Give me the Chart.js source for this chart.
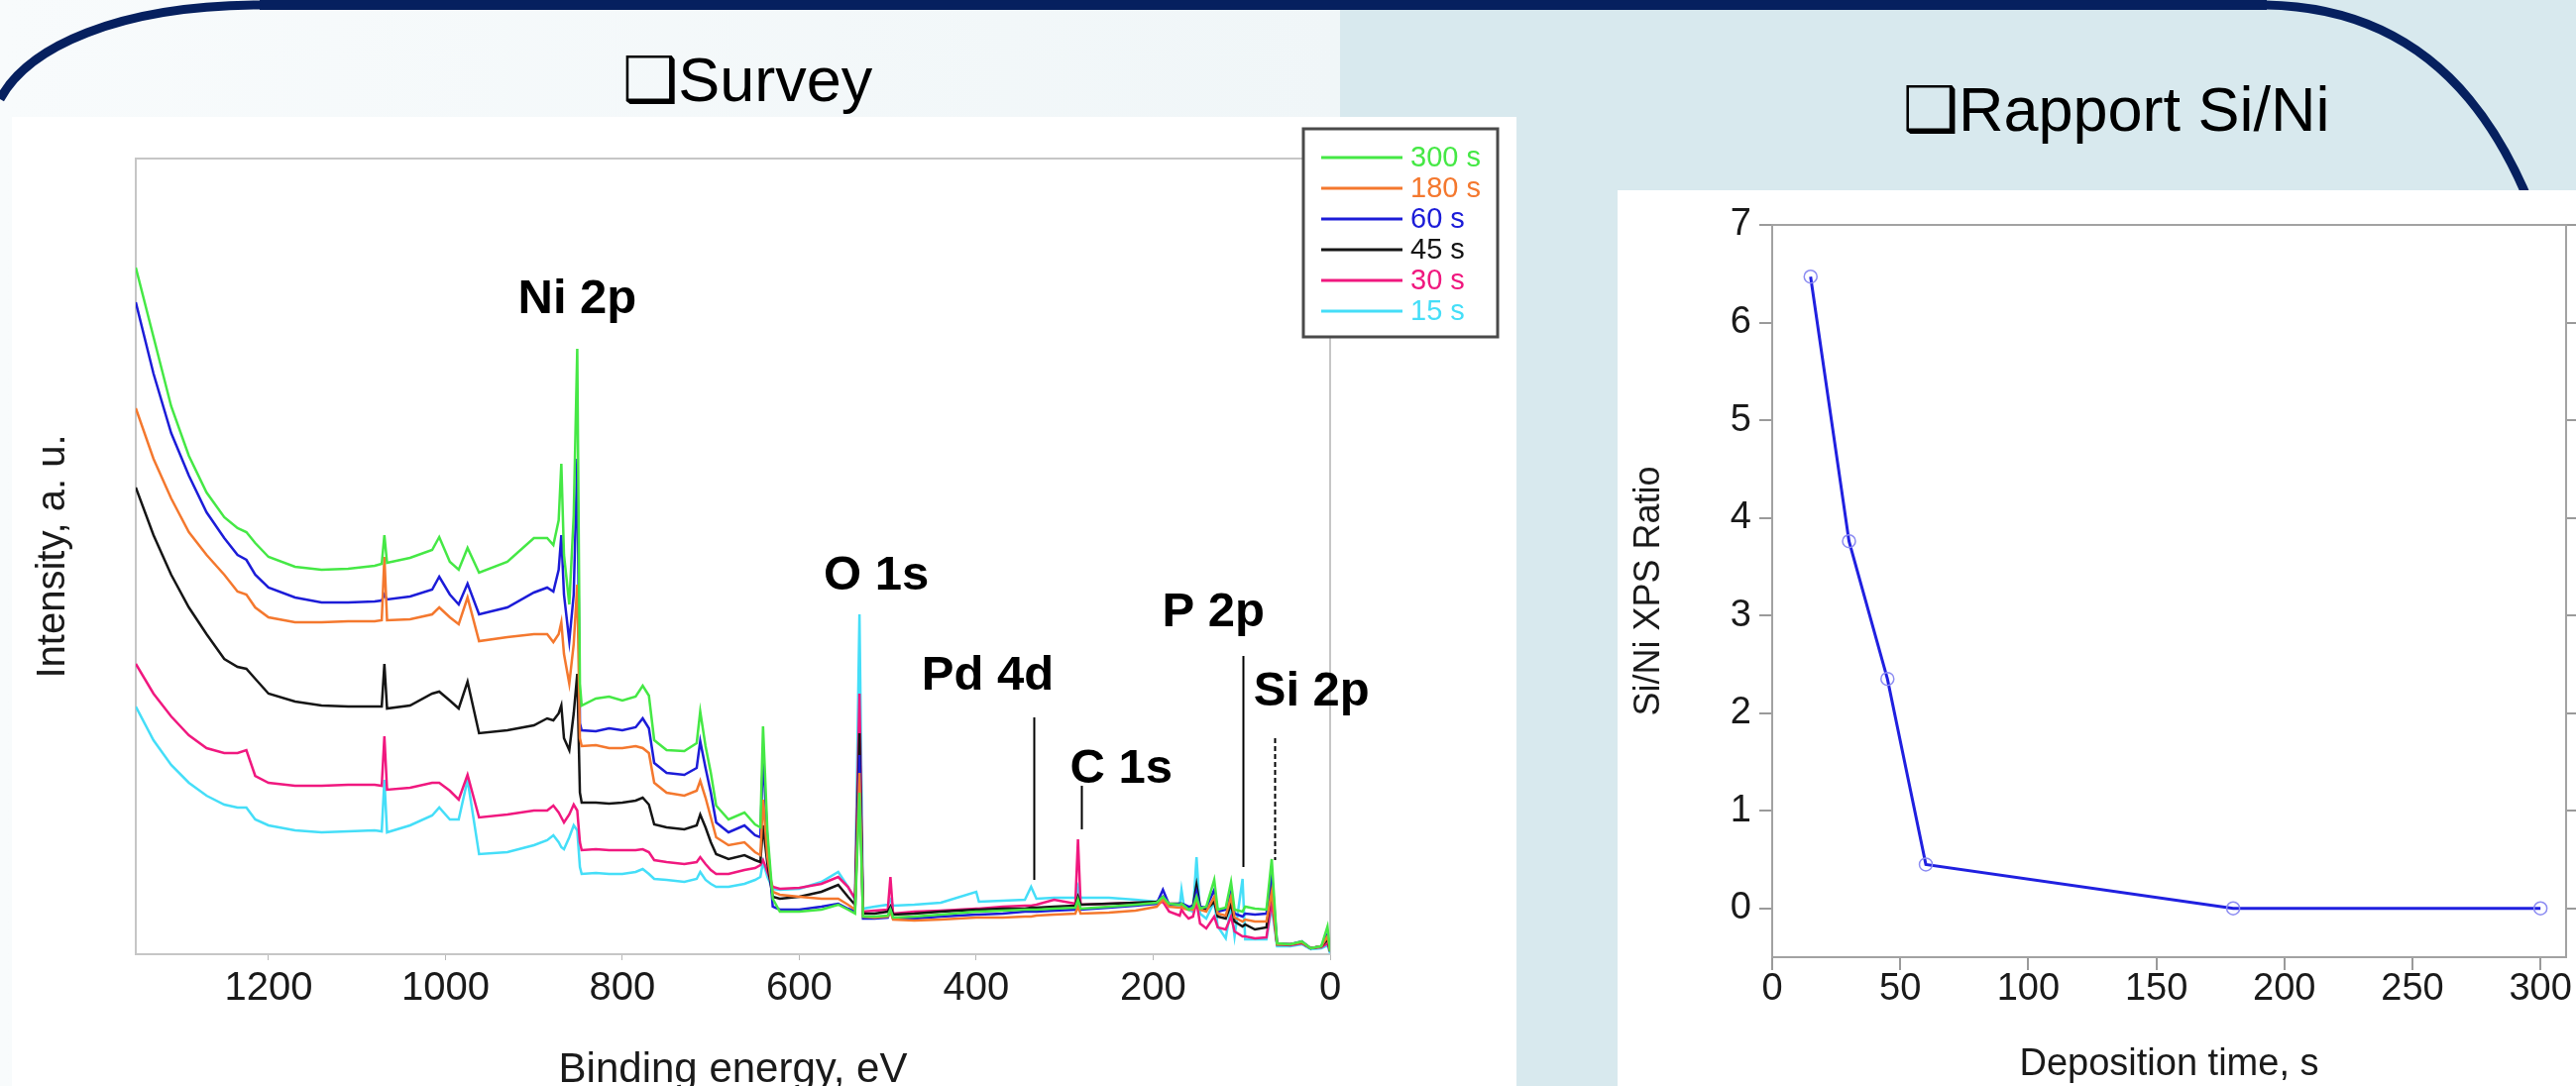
<!DOCTYPE html>
<html>
<head>
<meta charset="utf-8">
<title>XPS survey and Si/Ni ratio</title>
<script src="https://cdn.jsdelivr.net/npm/chart.js@4.4.1/dist/chart.umd.min.js"></script>
<style>
  html, body { margin: 0; padding: 0; width: 2599px; height: 1096px; overflow: hidden; }
  body { position: relative; background: #d8e9ee; font-family: 'Liberation Sans', Arial, sans-serif; }
  #bgLeft { position: absolute; left: 0; top: 0; width: 1352px; height: 1096px;
            background: linear-gradient(90deg, #f8fbfc 0%, #f0f6f8 100%); }
  #deco { position: absolute; left: 0; top: 0; }
  .title { position: absolute; font-size: 63px; color: #000; white-space: nowrap;
           transform: translate(-50%, -50%); font-family: 'Liberation Sans', 'DejaVu Sans', sans-serif; }
  .panel { position: absolute; background: #fff; }
  #surveyBox { left: 12px; top: 118px; width: 1518px; height: 1000px; }
  #ratioBox { left: 1632px; top: 192px; width: 967px; height: 904px; }
</style>
</head>
<body>
<div id="bgLeft"></div>
<svg id="deco" width="2599" height="1096">
  <rect x="262" y="0" width="2025" height="10" fill="#06205f"/>
  <path d="M0,100 C28,48 118,5 265,5 L2280,5 C2450,5 2565,120 2605,420" fill="none" stroke="#06205f" stroke-width="9"/>
</svg>
<div class="title" style="left:754px; top:80px;">❑Survey</div>
<div class="title" style="left:2135px; top:110px;">❑Rapport Si/Ni</div>
<div class="panel" id="surveyBox"><canvas id="survey"></canvas></div>
<div class="panel" id="ratioBox"><canvas id="ratio"></canvas></div>

<script>
const FONT = "'Liberation Sans', Arial, sans-serif";

// survey spectra: binding energy (eV) and intensity (a.u.) for each deposition time
const energy = [1350,1330,1310,1290,1270,1250,1235,1225,1215,1200,
  1170,1140,1110,1080,1072,1069,1066,1040,1015,1007,
  995,985,975,962,930,900,885,878,872,869,
  866,860,855,851,848,846,830,815,800,785,
  777,770,764,750,730,716,712,706,700,694,
  680,662,650,644,641,636,630,622,600,575,
  556,545,537,532,528,515,500,497,494,470,
  440,400,397,370,345,338,332,312,288,285,
  282,250,220,196,189,182,170,168,165,160,
  155,151,147,140,131,127,118,112,108,99,
  96,85,72,66,60,45,32,22,10,3,0];

const s300 = [693,623,553,503,466,441,430,426,415,401,
  391,388,389,392,394,423,395,400,408,421,
  396,388,410,385,396,420,420,413,438,495,
  403,353,443,611,273,251,258,260,256,260,
  271,261,216,206,205,213,245,210,183,150,
  136,143,131,128,230,123,56,43,43,45,
  50,45,41,163,38,38,39,45,37,38,
  40,43,43,44,45,45,45,46,47,55,
  46,48,50,52,58,51,50,51,49,45,
  47,58,46,48,75,45,47,73,45,43,
  48,46,45,96,11,10,13,6,8,28,3];

const s180 = [551,500,460,426,403,383,366,363,350,340,
  335,335,336,336,337,401,337,338,343,350,
  340,333,360,316,320,323,323,315,323,335,
  303,273,313,373,218,210,211,208,208,210,
  208,203,173,163,160,165,175,158,138,118,
  110,113,103,100,156,98,63,60,58,56,
  56,50,45,183,38,37,38,43,35,34,
  35,37,37,37,38,38,39,40,41,48,
  41,42,44,48,55,48,47,48,46,45,
  45,55,45,43,58,41,39,58,37,33,
  35,33,33,63,10,10,12,6,8,18,3];

const s60 = [658,586,526,483,446,420,403,398,383,370,
  360,355,355,356,357,363,358,361,368,381,
  363,353,374,343,350,365,370,366,388,423,
  363,316,363,500,233,226,225,228,226,229,
  238,228,193,183,181,188,215,188,163,133,
  123,130,120,118,201,115,48,45,45,48,
  51,46,43,201,36,36,37,45,36,36,
  38,40,40,41,43,43,43,44,45,53,
  45,47,49,51,65,50,51,51,50,48,
  48,63,48,47,65,43,45,63,41,38,
  41,40,41,81,11,10,13,6,8,20,3];

const s45 = [471,423,383,350,323,298,290,288,278,263,
  255,251,250,250,250,293,248,251,263,265,
  256,248,275,223,226,231,238,236,243,251,
  218,206,243,283,163,153,153,152,153,155,
  158,151,131,128,126,130,141,128,113,101,
  96,100,95,93,130,91,58,56,58,63,
  70,58,50,223,41,41,43,48,40,41,
  43,45,45,46,46,47,47,48,49,58,
  50,51,52,53,58,51,51,51,50,47,
  49,70,48,45,53,38,36,51,33,28,
  30,25,27,68,10,10,12,6,8,15,3];

const s30 = [293,263,240,221,208,203,203,206,180,173,
  170,170,171,171,170,220,166,168,173,173,
  165,156,181,138,141,145,145,150,143,138,
  133,141,151,145,113,105,106,105,105,105,
  106,103,95,93,91,93,98,91,85,81,
  81,85,87,90,95,83,68,66,67,71,
  78,68,56,263,43,44,45,78,41,43,
  44,46,46,48,49,49,50,55,51,116,
  50,51,52,51,53,43,39,45,41,36,
  38,53,31,26,38,27,25,38,23,18,
  18,16,17,53,10,9,11,6,7,11,3];

const s15 = [250,216,191,173,160,151,148,148,136,130,
  125,123,124,125,124,176,123,130,140,148,
  136,136,176,101,103,110,115,120,113,108,
  106,118,130,125,88,81,82,81,81,83,
  86,81,76,75,73,76,83,75,71,68,
  68,71,75,78,93,78,66,65,66,73,
  83,68,55,343,46,48,50,55,49,50,
  52,63,53,54,55,68,56,57,57,68,
  57,57,55,53,57,48,49,65,47,45,
  43,98,41,36,53,28,16,48,18,76,
  15,15,15,48,8,8,10,5,6,9,1];

const seriesLabels = ['300 s', '180 s', '60 s', '45 s', '30 s', '15 s'];
const seriesColors = ['#45e845', '#f4782e', '#1c1cd8', '#151515', '#f0187f', '#45def8'];
const surveyTicks = [0, 200, 400, 600, 800, 1000, 1200];

// peak annotations: label, energy of label centre, baseline level
const peakLabels = ['Ni 2p', 'O 1s', 'Pd 4d', 'C 1s', 'P 2p', 'Si 2p'];
const labelEnergy = [851, 513, 387, 236, 132, 21];
const labelLevel = [647, 368, 267, 173, 331, 251];
// marker lines: energy, top level, bottom level, dashed
const markerEnergy = [335, 281, 98.5, 63];
const markerTop = [239, 170, 301, 218];
const markerBottom = [75, 126, 88, 95];
const markerDashed = [false, false, false, true];

// Si/Ni ratio
const depositionTime = [15, 30, 45, 60, 180, 300];
const siNiRatio = [6.47, 3.76, 2.35, 0.45, 0, 0];
const timeTicks = [0, 50, 100, 150, 200, 250, 300];
const ratioTicks = [0, 1, 2, 3, 4, 5, 6, 7];

const framePlugin = {
  id: 'frame',
  beforeDatasetsDraw(chart, args, opts) {
    const a = chart.chartArea, ctx = chart.ctx;
    ctx.save();
    ctx.strokeStyle = opts.color;
    ctx.lineWidth = opts.width;
    ctx.strokeRect(a.left, a.top, a.right - a.left, a.bottom - a.top);
    ctx.restore();
  }
};

const peakPlugin = {
  id: 'peaks',
  afterDatasetsDraw(chart) {
    const x = chart.scales.x, y = chart.scales.y, ctx = chart.ctx;
    ctx.save();
    ctx.fillStyle = '#000';
    ctx.font = 'bold 49px ' + FONT;
    ctx.textAlign = 'center';
    ctx.textBaseline = 'alphabetic';
    peakLabels.forEach((t, i) => {
      ctx.fillText(t, x.getPixelForValue(labelEnergy[i]), y.getPixelForValue(labelLevel[i]));
    });
    ctx.strokeStyle = '#000';
    ctx.lineWidth = 2;
    markerEnergy.forEach((e, i) => {
      ctx.setLineDash(markerDashed[i] ? [5, 3] : []);
      const px = Math.round(x.getPixelForValue(e)) + 0.5;
      ctx.beginPath();
      ctx.moveTo(px, y.getPixelForValue(markerTop[i]));
      ctx.lineTo(px, y.getPixelForValue(markerBottom[i]));
      ctx.stroke();
    });
    ctx.restore();
  }
};

const legendPlugin = {
  id: 'boxLegend',
  afterDraw(chart, args, o) {
    const ctx = chart.ctx;
    ctx.save();
    ctx.fillStyle = '#fff';
    ctx.fillRect(o.x, o.y, o.w, o.h);
    ctx.strokeStyle = '#4a4a4a';
    ctx.lineWidth = 3;
    ctx.strokeRect(o.x, o.y, o.w, o.h);
    ctx.font = '29px ' + FONT;
    ctx.textBaseline = 'middle';
    chart.data.datasets.forEach((ds, i) => {
      const yy = o.y + o.first + i * o.step;
      ctx.strokeStyle = ds.borderColor;
      ctx.lineWidth = 3;
      ctx.beginPath();
      ctx.moveTo(o.x + 18, yy);
      ctx.lineTo(o.x + 100, yy);
      ctx.stroke();
      ctx.fillStyle = ds.borderColor;
      ctx.fillText(ds.label, o.x + 108, yy + 1);
    });
    ctx.restore();
  }
};

const surveySeries = [s300, s180, s60, s45, s30, s15];

new Chart(document.getElementById('survey'), {
  type: 'line',
  data: {
    datasets: surveySeries.map((arr, k) => ({
      label: seriesLabels[k],
      data: energy.map((e, i) => ({ x: e, y: arr[i] })),
      borderColor: seriesColors[k],
      borderWidth: 2.5,
      pointRadius: 0,
      tension: 0,
      fill: false
    }))
  },
  options: {
    responsive: true,
    maintainAspectRatio: false,
    animation: false,
    layout: { padding: { top: 42, right: 188, left: 0, bottom: 0 } },
    plugins: {
      legend: { display: false },
      tooltip: { enabled: false },
      frame: { color: '#c6c6c6', width: 2 },
      boxLegend: { x: 1303, y: 12, w: 196, h: 210, first: 29, step: 31 }
    },
    scales: {
      x: {
        type: 'linear',
        reverse: true,
        min: 0,
        max: 1350,
        afterBuildTicks: s => { s.ticks = surveyTicks.map(v => ({ value: v })); },
        afterFit: s => { s.height = 155; },
        grid: { drawOnChartArea: false, tickLength: 6, color: '#b8b8b8' },
        border: { display: false },
        ticks: { color: '#1a1a1a', padding: 9, maxRotation: 0, callback: v => String(v),
                 font: { family: FONT, size: 40, lineHeight: 1 } },
        title: { display: true, text: 'Binding energy, eV', color: '#1a1a1a',
                 font: { family: FONT, size: 42, lineHeight: 1 }, padding: { top: 0, bottom: 17 } }
      },
      y: {
        min: 0,
        max: 803,
        afterFit: s => { s.width = 125; },
        grid: { display: false },
        border: { display: false },
        ticks: { display: false },
        title: { display: true, text: 'Intensity, a. u.', color: '#1a1a1a',
                 font: { family: FONT, size: 40, lineHeight: 1 }, padding: { top: 22, bottom: 0 } }
      }
    }
  },
  plugins: [framePlugin, peakPlugin, legendPlugin]
});

new Chart(document.getElementById('ratio'), {
  type: 'line',
  data: {
    datasets: [{
      label: 'Si/Ni',
      data: depositionTime.map((t, i) => ({ x: t, y: siNiRatio[i] })),
      borderColor: '#2020e0',
      borderWidth: 3,
      pointRadius: 6.5,
      pointBorderColor: '#8c8cf2',
      pointBackgroundColor: 'rgba(255,255,255,0)',
      pointBorderWidth: 1.5,
      tension: 0
    }]
  },
  options: {
    responsive: true,
    maintainAspectRatio: false,
    animation: false,
    layout: { padding: { top: 35, right: 0, left: 0, bottom: 0 } },
    plugins: {
      legend: { display: false },
      tooltip: { enabled: false },
      frame: { color: '#a2a2a2', width: 2 }
    },
    scales: {
      x: {
        type: 'linear',
        min: 0,
        max: 310,
        afterBuildTicks: s => { s.ticks = timeTicks.map(v => ({ value: v })); },
        afterFit: s => { s.height = 130; },
        grid: { drawOnChartArea: false, tickLength: 13, color: '#9a9a9a', lineWidth: 2 },
        border: { display: false },
        ticks: { color: '#1a1a1a', padding: 1, maxRotation: 0, font: { family: FONT, size: 38, lineHeight: 1 } },
        title: { display: true, text: 'Deposition time, s', color: '#1a1a1a',
                 font: { family: FONT, size: 38, lineHeight: 1 }, padding: { top: 0, bottom: 2 } }
      },
      y: {
        min: -0.5,
        max: 7,
        afterBuildTicks: s => { s.ticks = ratioTicks.map(v => ({ value: v })); },
        afterFit: s => { s.width = 156; },
        grid: { drawOnChartArea: false, tickLength: 13, color: '#9a9a9a', lineWidth: 2 },
        border: { display: false },
        ticks: { color: '#1a1a1a', padding: 8, font: { family: FONT, size: 38, lineHeight: 1 } },
        title: { display: true, text: 'Si/Ni XPS Ratio', color: '#1a1a1a',
                 font: { family: FONT, size: 36, lineHeight: 1.2 }, padding: { top: 10, bottom: 0 } }
      },
      y2: {
        position: 'right',
        min: -0.5,
        max: 7,
        afterBuildTicks: s => { s.ticks = ratioTicks.map(v => ({ value: v })); },
        afterFit: s => { s.width = 10; },
        grid: { drawOnChartArea: false, tickLength: 13, color: '#9a9a9a', lineWidth: 2 },
        border: { display: false },
        ticks: { display: false }
      }
    }
  },
  plugins: [framePlugin]
});
</script>
</body>
</html>
